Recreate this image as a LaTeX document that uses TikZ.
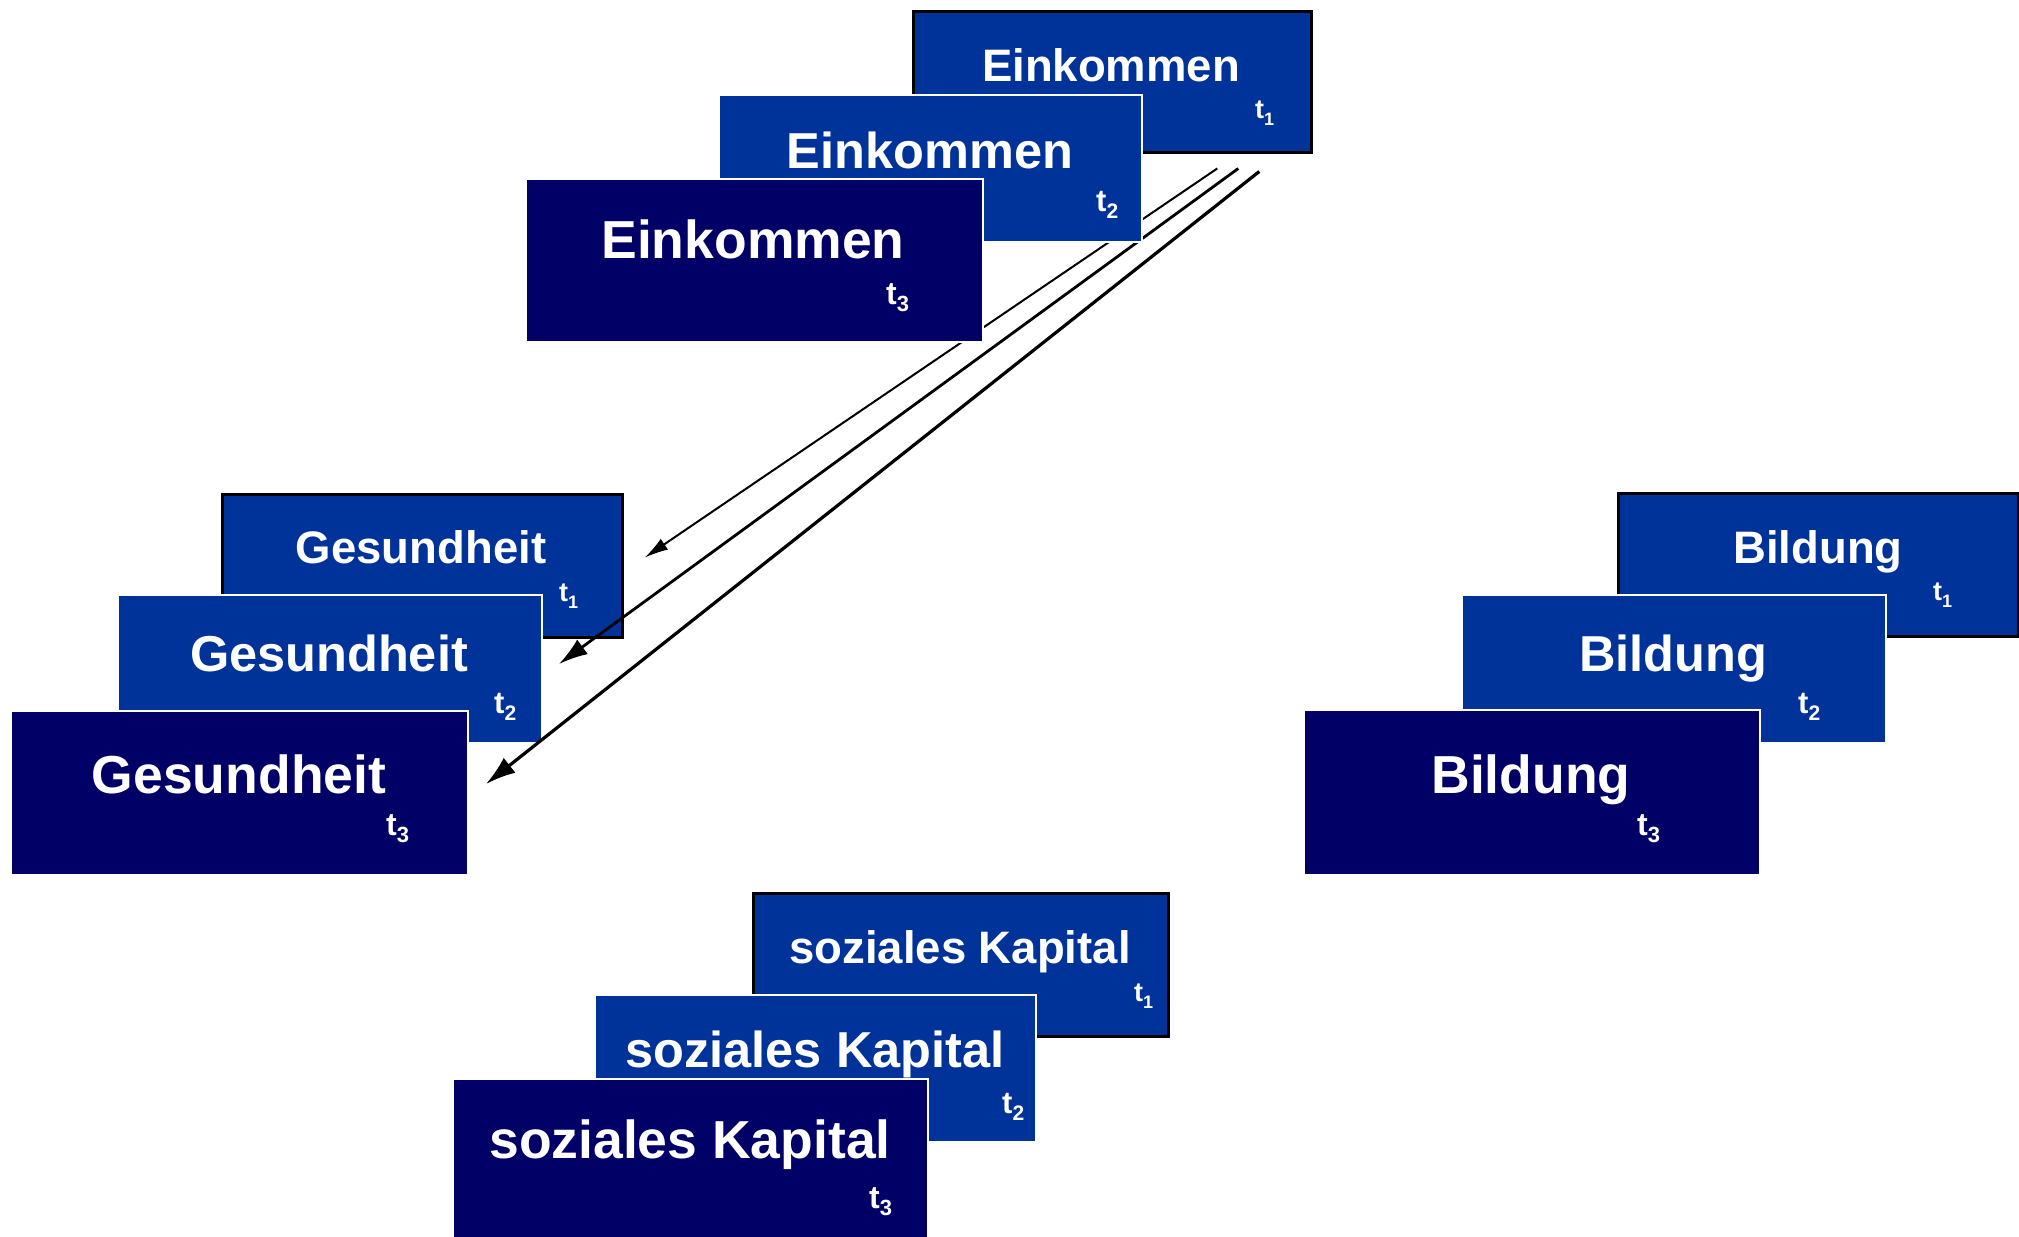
\documentclass[tikz,border=0pt]{standalone}
\usepackage{fontspec}
\setmainfont{Liberation Sans}
\usetikzlibrary{arrows.meta,calc}
\definecolor{midblue}{RGB}{0,51,153}
\definecolor{navy}{RGB}{0,0,102}
\newcommand{\tidx}[4]{{\fontsize{#1}{#1}\selectfont t\raisebox{-#3pt}{\fontsize{#2}{#2}\selectfont #4}}}
\tikzset{
  boxback/.style={rectangle, inner sep=0pt, anchor=north west, fill=midblue, draw=black, line width=2.5pt},
  boxmid/.style={rectangle, inner sep=0pt, anchor=north west, fill=midblue, draw=white, line width=2pt},
  boxfront/.style={rectangle, inner sep=0pt, anchor=north west, fill=navy, draw=white, line width=2pt},
  wback/.style={minimum width=400pt, minimum height=143pt},
  wmid/.style={minimum width=424pt, minimum height=148pt},
  wfront/.style={minimum width=457pt, minimum height=164pt},
  lab/.style={inner sep=0pt, anchor=base, text=white, font=\bfseries},
  labback/.style={lab, font=\bfseries\fontsize{45.5}{45.5}\selectfont},
  labmid/.style={lab, font=\bfseries\fontsize{50.5}{50.5}\selectfont},
  labfront/.style={lab, font=\bfseries\fontsize{53.5}{53.5}\selectfont},
  tlab/.style={inner sep=0pt, anchor=base west, text=white, font=\bfseries},
  conn/.style={draw=black}
}
\begin{document}
\begin{tikzpicture}[x=1pt,y=-1pt]
\useasboundingbox (0,0) rectangle (2019,1237);
\fill[white] (0,0) rectangle (2019,1237);

% Gesundheit
\node[boxback, wback] (G1) at (221,493) {};
\node[labback] (G1l) at (421,563) {Gesundheit};
\node[tlab] (G1t) at (559,601) {\tidx{27}{18}{7}{1}};
\node[boxmid, wmid] (G2) at (117,594) {};
\node[labmid] (G2l) at (329,671) {Gesundheit};
\node[tlab] (G2t) at (494,713) {\tidx{31}{21}{7}{2}};
\node[boxfront, wfront] (G3) at (10,710) {};
\node[labfront] (G3l) at (239,793) {Gesundheit};
\node[tlab] (G3t) at (386,835) {\tidx{32}{22}{7}{3}};

% Bildung
\node[boxback, wback] (B1) at (1617,492) {};
\node[labback] (B1l) at (1818,563) {Bildung};
\node[tlab] (B1t) at (1933,600) {\tidx{27}{18}{7}{1}};
\node[boxmid, wmid] (B2) at (1461,594) {};
\node[labmid] (B2l) at (1673,671) {Bildung};
\node[tlab] (B2t) at (1798,713) {\tidx{31}{21}{7}{2}};
\node[boxfront, wfront, minimum width=456pt, minimum height=165pt] (B3) at (1303,709) {};
\node[labfront] (B3l) at (1531,793) {Bildung};
\node[tlab] (B3t) at (1637,835) {\tidx{32}{22}{7}{3}};

% soziales Kapital
\node[boxback, minimum width=415pt, minimum height=143pt] (S1) at (752,892) {};
\node[labback] (S1l) at (960,963) {soziales Kapital};
\node[tlab] (S1t) at (1134,1001) {\tidx{27}{18}{7}{1}};
\node[boxmid, minimum width=441pt, minimum height=147pt] (S2) at (594,994) {};
\node[labmid] (S2l) at (815,1067) {soziales Kapital};
\node[tlab] (S2t) at (1002,1113) {\tidx{31}{21}{7}{2}};
\node[boxfront, minimum width=475pt, minimum height=165pt] (S3) at (452,1078) {};
\node[labfront] (S3l) at (690,1158) {soziales Kapital};
\node[tlab] (S3t) at (869,1208) {\tidx{32}{22}{7}{3}};

% Einkommen (back)
\node[boxback, minimum width=398pt, minimum height=141pt] (E1) at (912,10) {};
\node[labback] (E1l) at (1111,81) {Einkommen};
\node[tlab] (E1t) at (1255,118) {\tidx{27}{18}{7}{1}};

% arrows
\coordinate (s1) at ($(E1.south)+(105,15)$);
\coordinate (s2) at ($(E1.south)+(126,15)$);
\coordinate (s3) at ($(E1.south)+(147,18)$);
\draw[conn, line width=2pt, -{Latex[length=24pt,width=13pt]}] (s1) -- ($(G1.east)+(21,-8)$);
\draw[conn, line width=2.8pt, -{Latex[length=29pt,width=18pt]}] (s2) -- ($(G2.east)+(16,-5)$);
\draw[conn, line width=3.2pt, -{Latex[length=30pt,width=19pt]}] (s3) -- ($(G3.east)+(17,-9)$);

% Einkommen (front)
\node[boxmid, minimum width=423pt, minimum height=147pt] (E2) at (718,94) {};
\node[labmid] (E2l) at (930,168) {Einkommen};
\node[tlab] (E2t) at (1096,211) {\tidx{31}{21}{7}{2}};
\node[boxfront, minimum width=457pt, minimum height=163pt] (E3) at (525,178) {};
\node[labfront] (E3l) at (753,258) {Einkommen};
\node[tlab] (E3t) at (886,304) {\tidx{32}{22}{7}{3}};
\end{tikzpicture}
\end{document}
